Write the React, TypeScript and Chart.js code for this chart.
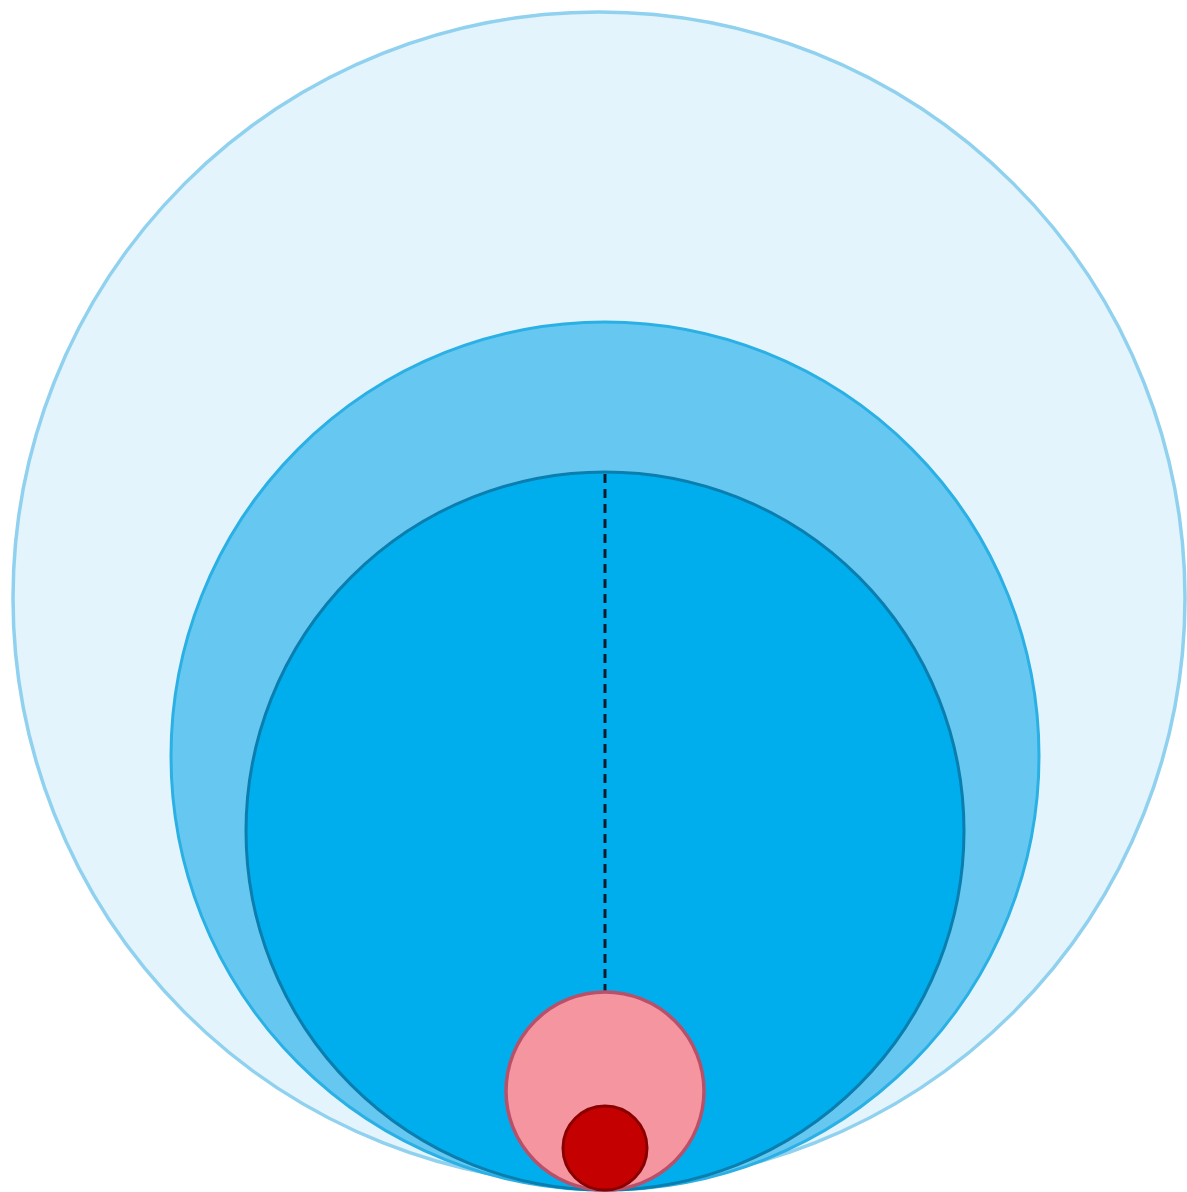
import React, { useEffect, useRef } from "react";
import { Chart, registerables } from "chart.js";

Chart.register(...registerables);

// Nested circles, all (roughly) tangent at the bottom point (origin).
const circleNames = ["Outer", "Second", "Third", "Pink", "Red"];
const centerX = [-6, 0, 0, 0, 0];
const centerY = [592, 434, 359, 99, 42];
const radii = [586, 434, 359, 99, 42];
const fillColors = ["#E3F4FC", "#66C8F1", "#00AEEE", "#F4959F", "#C40000"];
const strokeColors = ["#8FD1EE", "#2AB0E4", "#0A7EAE", "#B9506A", "#8A0000"];
const strokeWidths = [3.5, 3, 3, 3.5, 3];

const dashX = [0, 0];
const dashY = [716, 99];

const W = 1187;
const H = 1192;

export default function App() {
  const ref = useRef<HTMLCanvasElement | null>(null);

  useEffect(() => {
    const canvas = ref.current;
    if (!canvas) return;

    const radiusFn = (c: any) => {
      const xs = c.chart.scales.x;
      const raw = c.raw as any;
      if (!xs || !raw || raw.size === undefined) return 0;
      const v = Math.abs(xs.getPixelForValue(raw.size) - xs.getPixelForValue(0));
      return isFinite(v) ? v : 0;
    };

    const circleSets: any[] = circleNames.map((name, i) => ({
      type: "scatter",
      label: name,
      data: [{ x: centerX[i], y: centerY[i], size: radii[i] }],
      showLine: false,
      pointBackgroundColor: fillColors[i],
      pointBorderColor: strokeColors[i],
      pointBorderWidth: strokeWidths[i],
      pointRadius: radiusFn,
      pointHoverRadius: radiusFn,
      pointHitRadius: 0,
      order: i < 3 ? 10 - i : 5 - i,
      clip: false,
    }));

    const lineSet: any = {
      type: "line",
      label: "dash",
      data: dashX.map((x, i) => ({ x, y: dashY[i] })),
      borderColor: "#141A2A",
      borderWidth: 3,
      borderDash: [9, 6],
      pointRadius: 0,
      fill: false,
      order: 6,
      clip: false,
    };

    const chart = new Chart(canvas, {
      type: "scatter",
      data: { datasets: [...circleSets, lineSet] },
      options: {
        responsive: false,
        animation: false,
        devicePixelRatio: 1,
        events: [],
        layout: { padding: 0 },
        plugins: {
          legend: { display: false },
          tooltip: { enabled: false },
          title: { display: false },
        },
        scales: {
          x: { type: "linear", display: false, min: -605, max: 582 },
          y: { type: "linear", display: false, min: -2, max: 1190 },
        },
      } as any,
    });

    return () => chart.destroy();
  }, []);

  return (
    <div style={{ position: "absolute", left: 0, top: 0, width: W, height: H, background: "#fff" }}>
      <canvas ref={ref} width={W} height={H} style={{ display: "block", width: W, height: H }} />
    </div>
  );
}
